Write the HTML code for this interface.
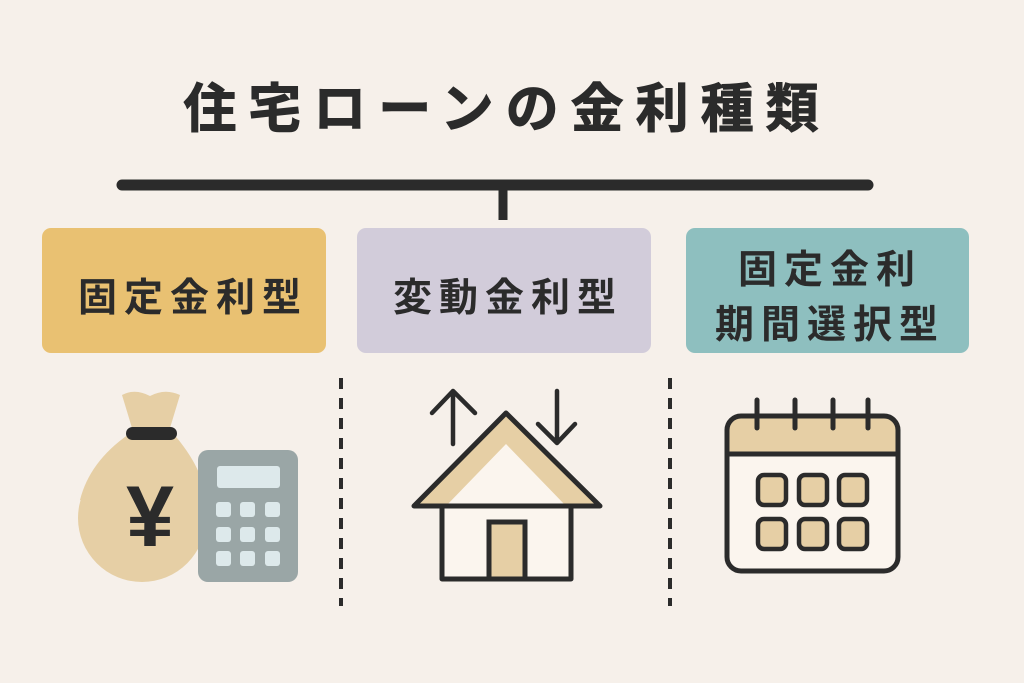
<!DOCTYPE html>
<html><head><meta charset="utf-8"><style>
html,body{margin:0;padding:0;background:#f6f0ea;}
svg{display:block;}
text{font-family:"Liberation Sans","Noto Sans CJK JP",sans-serif;font-weight:bold;fill:#2b2b2b;}
</style></head><body>
<svg width="1024" height="683" viewBox="0 0 1024 683" xmlns="http://www.w3.org/2000/svg">
<rect width="1024" height="683" fill="#f6f0ea"/>
<text x="507" y="127" font-size="53" text-anchor="middle" letter-spacing="12" stroke="#2b2b2b" stroke-width="1">住宅ローンの金利種類</text>
<line x1="122" y1="185" x2="868" y2="185" stroke="#2b2b2b" stroke-width="11" stroke-linecap="round"/>
<line x1="503" y1="185" x2="503" y2="220" stroke="#2b2b2b" stroke-width="9"/>
<rect x="42" y="228" width="284" height="125" rx="9" fill="#e9c172"/>
<rect x="357" y="228" width="294" height="125" rx="9" fill="#d2ccda"/>
<rect x="686" y="228" width="283" height="125" rx="9" fill="#8ebfbf"/>
<text x="193" y="311" font-size="39" text-anchor="middle" letter-spacing="7">固定金利型</text>
<text x="508" y="311" font-size="39" text-anchor="middle" letter-spacing="7">変動金利型</text>
<text x="830" y="283" font-size="39" text-anchor="middle" letter-spacing="7">固定金利</text>
<text x="830" y="338" font-size="39" text-anchor="middle" letter-spacing="7">期間選択型</text>
<line x1="341" y1="378" x2="341" y2="606" stroke="#2b2b2b" stroke-width="4" stroke-dasharray="11,9"/>
<line x1="670" y1="378" x2="670" y2="606" stroke="#2b2b2b" stroke-width="4" stroke-dasharray="11,9"/>
<!-- money bag -->
<path d="M122 395 Q135 388 150 396 Q165 388 180 395 L170 428 L132 428 Z" fill="#e6cfa5"/>
<ellipse cx="142" cy="518" rx="64" ry="64" fill="#e6cfa5"/>
<path d="M132 432 L172 432 Q205 470 205 500 L80 500 Q90 460 132 432Z" fill="#e6cfa5"/>
<rect x="126" y="427" width="51" height="13" rx="6.5" fill="#2b2b2b"/>
<text x="150" y="546" font-size="86" text-anchor="middle" font-family="Liberation Sans,sans-serif">¥</text>
<!-- calculator -->
<rect x="198" y="450" width="100" height="132" rx="10" fill="#9aa6a6"/>
<rect x="217" y="466" width="63" height="22" rx="3" fill="#dde9eb"/>
<g fill="#dde9eb">
<rect x="216" y="502" width="15" height="15" rx="3"/><rect x="240" y="502" width="15" height="15" rx="3"/><rect x="265" y="502" width="15" height="15" rx="3"/>
<rect x="216" y="527" width="15" height="15" rx="3"/><rect x="240" y="527" width="15" height="15" rx="3"/><rect x="265" y="527" width="15" height="15" rx="3"/>
<rect x="216" y="551" width="15" height="15" rx="3"/><rect x="240" y="551" width="15" height="15" rx="3"/><rect x="265" y="551" width="15" height="15" rx="3"/>
</g>
<!-- house -->
<path d="M506 413 L414 506 L442 506 L442 579 L571 579 L571 506 L600 506 Z" fill="#fbf5ee"/>
<path d="M506 413 L414 506 L446 506 L506 444 L566 506 L600 506 Z" fill="#e6cfa5"/>
<rect x="489" y="522" width="36" height="57" fill="#e6cfa5"/>
<path d="M442 506 L442 579 L571 579 L571 506 M414 506 L506 413 L600 506 Z" fill="none" stroke="#2b2b2b" stroke-width="5" stroke-linejoin="round"/>
<path d="M489 579 L489 522 L525 522 L525 579" fill="none" stroke="#2b2b2b" stroke-width="5"/>
<path d="M453 444 L453 391 M432 413 L453 391 L475 413" fill="none" stroke="#2b2b2b" stroke-width="4.5" stroke-linecap="round" stroke-linejoin="round"/>
<path d="M557 391 L557 443 M538 424 L557 443 L575 424" fill="none" stroke="#2b2b2b" stroke-width="4.5" stroke-linecap="round" stroke-linejoin="round"/>
<!-- calendar -->
<rect x="727" y="416" width="171" height="155" rx="14" fill="#fbf5ee"/>
<path d="M727 454 L727 430 Q727 416 741 416 L884 416 Q898 416 898 430 L898 454 Z" fill="#e6cfa5"/>
<rect x="727" y="416" width="171" height="155" rx="14" fill="none" stroke="#2b2b2b" stroke-width="5"/>
<line x1="727" y1="454" x2="898" y2="454" stroke="#2b2b2b" stroke-width="5"/>
<g stroke="#2b2b2b" stroke-width="5" stroke-linecap="round">
<line x1="757" y1="400" x2="757" y2="428"/><line x1="795" y1="400" x2="795" y2="428"/><line x1="833" y1="400" x2="833" y2="428"/><line x1="868" y1="400" x2="868" y2="428"/>
</g>
<g fill="#e6cfa5" stroke="#2b2b2b" stroke-width="4.5">
<rect x="758" y="475" width="28" height="30" rx="6"/><rect x="799" y="475" width="28" height="30" rx="6"/><rect x="839" y="475" width="28" height="30" rx="6"/>
<rect x="758" y="519" width="28" height="30" rx="6"/><rect x="799" y="519" width="28" height="30" rx="6"/><rect x="839" y="519" width="28" height="30" rx="6"/>
</g>
</svg>
</body></html>
